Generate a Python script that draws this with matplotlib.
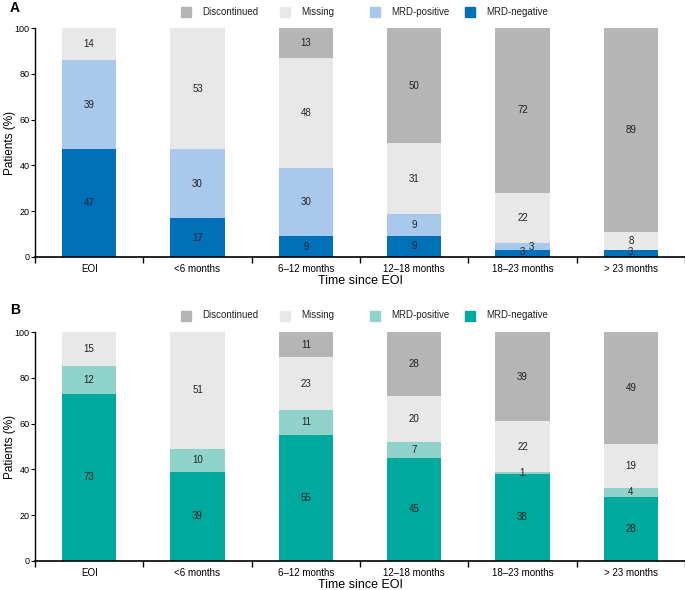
import numpy as np
import matplotlib.pyplot as plt
from matplotlib.patches import Rectangle

plt.rcParams['font.family'] = ['Liberation Sans', 'DejaVu Sans']

categories = ["EOI", "<6 months", "6\u201312 months", "12\u201318 months", "18\u201323 months", "> 23 months"]
series = ["MRD-negative", "MRD-positive", "Missing", "Discontinued"]

# panel A (bottom to top)
a_neg = [47, 17, 9, 9.3, 3, 3]
a_pos = [39, 30, 30, 9.3, 3, 0]
a_missing = [14, 53, 48, 31, 22, 8]
a_disc = [0, 0, 13, 50.4, 72, 89]

# panel B
b_neg = [73, 39, 55, 45, 38, 28]
b_pos = [12, 10, 11, 7, 1, 4]
b_missing = [15, 51, 23, 20, 22, 19]
b_disc = [0, 0, 11, 28, 39, 49]

grey_disc = "#b5b5b5"
grey_miss = "#e8e8e8"
colors_a = ["#0070b8", "#a8c8ec", grey_miss, grey_disc]
colors_b = ["#00a99d", "#8fd3ca", grey_miss, grey_disc]

W, H = 685, 590
fig = plt.figure(figsize=(W / 100, H / 100), dpi=100)
ax_a = fig.add_axes([35 / W, 1 - 257 / H, 650 / W, 229 / H])
ax_b = fig.add_axes([35 / W, 1 - 561 / H, 650 / W, 229 / H])


def draw_panel(ax, data, colors, letter, leg_y, letter_y):
    x = np.arange(len(categories))
    bottom = np.zeros(len(categories))
    for vals, col in zip(data, colors):
        vals = np.array(vals, dtype=float)
        ax.bar(x, vals, width=0.5, bottom=bottom, color=col, edgecolor="none")
        for i, v in enumerate(vals):
            if v <= 0:
                continue
            xi, yi = x[i], bottom[i] + v / 2
            # two tiny segments stacked: shift the upper label aside
            if v < 5 and bottom[i] > 0 and data[0][i] < 5:
                xi += 0.08
            elif v < 5 and bottom[i] == 0:
                yi += 0.8
            ax.text(xi, yi, f"{round(v)}", ha="center", va="center", fontsize=7, color="#222222")
        bottom += vals

    ax.set_xlim(-0.5, len(categories) - 0.5)
    ax.set_ylim(0, 100)
    ax.set_yticks([0, 20, 40, 60, 80, 100])
    ax.tick_params(axis="y", labelsize=6.5, length=3, width=0.8, pad=1)
    ax.set_xticks(np.arange(-0.5, len(categories)), labels=[""] * (len(categories) + 1))
    ax.set_xticks(x, labels=categories, minor=True)
    ax.tick_params(axis="x", which="major", length=4, width=1)
    ax.tick_params(axis="x", which="minor", length=0, labelsize=7, pad=5)
    ax.spines["top"].set_visible(False)
    ax.spines["right"].set_visible(False)
    ax.spines["left"].set_linewidth(1)
    ax.spines["bottom"].set_linewidth(1.2)
    ax.set_ylabel("Patients (%)", fontsize=8.5)
    ax.yaxis.set_label_coords(-0.029, 0.5)
    ax.set_xlabel("Time since EOI", fontsize=9, labelpad=1)

    # legend drawn by hand to keep the even spacing of the original
    sq_x = [181, 280, 370, 465]
    for sx, s, c in zip(sq_x, series[::-1], colors[::-1]):
        fig.patches.append(Rectangle((sx / W, 1 - (leg_y + 5) / H), 10 / W, 10 / H,
                                     transform=fig.transFigure, color=c, figure=fig))
        fig.text((sx + 21) / W, 1 - leg_y / H, s, fontsize=7, va="center", ha="left", color="#222222")
    fig.text(10 / W, 1 - letter_y / H, letter, fontsize=10, fontweight="bold", va="center")


draw_panel(ax_a, [a_neg, a_pos, a_missing, a_disc], colors_a, "A", 12, 8)
draw_panel(ax_b, [b_neg, b_pos, b_missing, b_disc], colors_b, "B", 315.5, 310)

fig.savefig("out.png", dpi=100)
